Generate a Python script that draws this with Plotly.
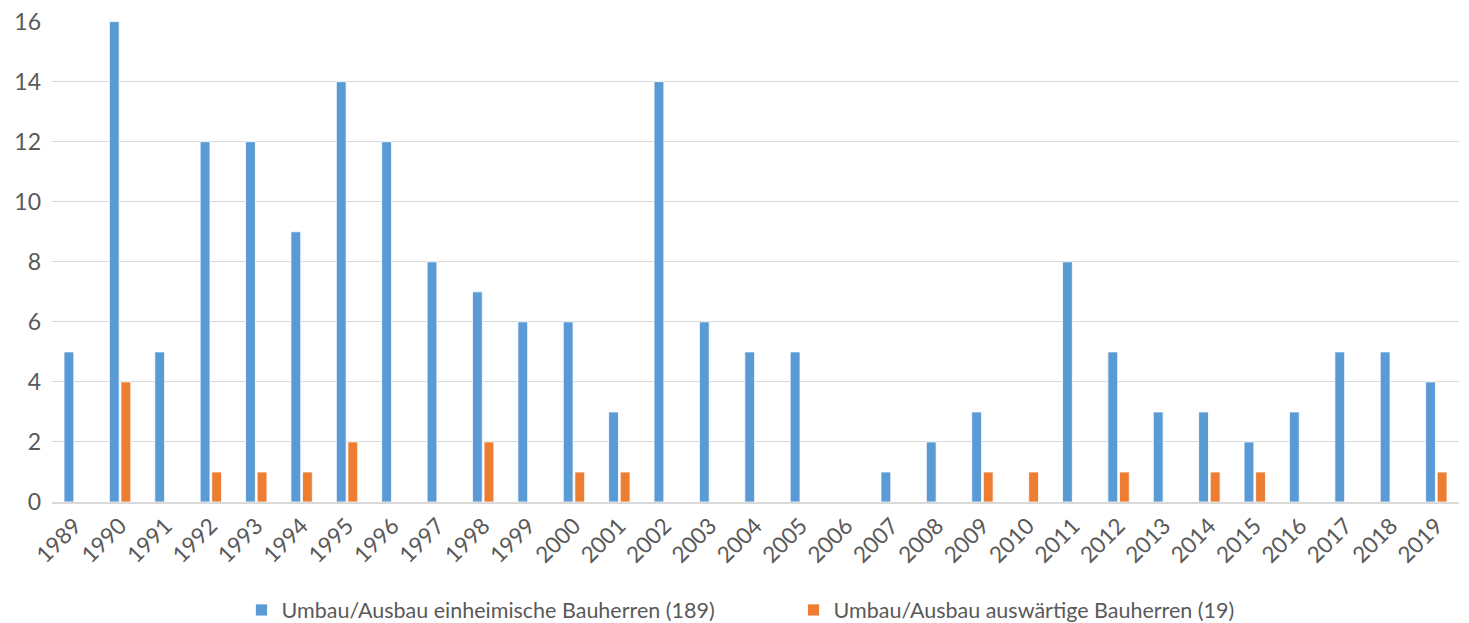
import plotly.graph_objects as go

years = [str(y) for y in range(1989, 2020)]
einheimisch = [5, 16, 5, 12, 12, 9, 14, 12, 8, 7, 6, 6, 3, 14, 6, 5, 5, 0, 1, 2, 3, 0, 8, 5, 3, 3, 2, 3, 5, 5, 4]
auswaertig = [0, 4, 0, 1, 1, 1, 2, 0, 0, 2, 0, 1, 1, 0, 0, 0, 0, 0, 0, 0, 1, 1, 0, 1, 0, 1, 1, 0, 0, 0, 1]
y_ticks = [0, 2, 4, 6, 8, 10, 12, 14, 16]
name_e = "Umbau/Ausbau einheimische Bauherren (189)"
name_a = "Umbau/Ausbau auswärtige Bauherren (19)"

FONT = "Lato, Liberation Sans, sans-serif"
TXT = "#595959"
GRID = "#D9D9D9"

fig = go.Figure()
fig.add_trace(go.Bar(x=years, y=einheimisch, name=name_e,
                     marker=dict(color="#5B9BD5", line=dict(color="white", width=0.8))))
fig.add_trace(go.Bar(x=years, y=auswaertig, name=name_a,
                     marker=dict(color="#ED7D31", line=dict(color="white", width=0.8))))

fig.update_layout(
    width=1461, height=615,
    margin=dict(l=44, r=10, t=13, b=121, autoexpand=False),
    paper_bgcolor="white", plot_bgcolor="white",
    barmode="group", bargap=0.49, bargroupgap=0.15,
    font=dict(family=FONT, color=TXT, size=20),
    showlegend=True,
    legend=dict(orientation="h", x=0.527, xanchor="center", y=-0.2245, yanchor="middle",
                font=dict(family=FONT, size=21.5, color=TXT),
                entrywidth=507, entrywidthmode="pixels"),
    xaxis=dict(type="category", tickangle=-45, showgrid=False, showline=True, automargin=False,
               linecolor=GRID, linewidth=1.5, ticks="", tickfont=dict(size=22.5, color=TXT)),
    yaxis=dict(range=[0, 16.02], tickmode="array", tickvals=y_ticks,
               showgrid=True, gridcolor=GRID, gridwidth=1.3, automargin=False,
               zeroline=False, showline=False, ticks="", tickfont=dict(size=23, color=TXT),
               ticklabelstandoff=10, ticklabeloverflow="allow"),
)

fig.write_html("out.html")
